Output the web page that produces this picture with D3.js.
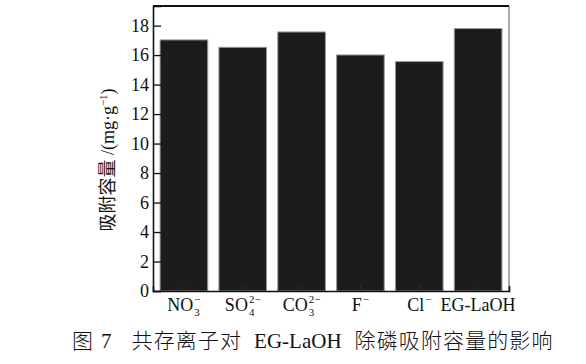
<!DOCTYPE html>
<html><head><meta charset="utf-8">
<script src="https://cdn.jsdelivr.net/npm/d3@7"></script>
<style>
body{margin:0;background:#fff;}
text{font-family:"Liberation Serif","Times New Roman",serif;fill:#111;}
.cjk{font-family:"Noto Sans CJK SC","Noto Sans CJK JP",sans-serif;}
</style></head>
<body><svg id="c" width="586" height="364"></svg>
<script>
const categories = ["NO3-","SO42-","CO32-","F-","Cl-","EG-LaOH"];
const labelBase = ["NO","SO","CO","F","Cl","EG-LaOH"];
const labelSub = ["3","4","3","","",""];
const labelSup = ["−","2−","2−","−","−",""];
const values = [17.03, 16.53, 17.57, 16.01, 15.56, 17.8];
const yTicks = [0,2,4,6,8,10,12,14,16,18];
const yLabelCn = "吸附容量";
const yLabelUnit = " /(mg·g";
const caption = ["图", "7", "共存离子对", "EG-LaOH", "除磷吸附容量的影响"];

const svg = d3.select("#c");
const L=153, R=509, T=6, B=291;
const x = d3.scaleBand().domain(categories).range([L,R]).paddingInner(0.19).paddingOuter(0.12);
const y = d3.scaleLinear().domain([0,19.33]).range([B,T]);

// bars
svg.selectAll("rect.bar").data(values).join("rect").attr("class","bar")
  .attr("x",(d,i)=>x(categories[i])).attr("width",x.bandwidth())
  .attr("y",d=>y(d)).attr("height",d=>B-y(d))
  .attr("fill","#1c1c1c").attr("stroke","#9a9a9a").attr("stroke-width",1);

// frame
svg.append("line").attr("x1",L).attr("x2",R).attr("y1",T).attr("y2",T).attr("stroke","#111").attr("stroke-width",2);
svg.append("line").attr("x1",R).attr("x2",R).attr("y1",T).attr("y2",B).attr("stroke","#555").attr("stroke-width",1);

// y axis
const ya = svg.append("g").attr("transform",`translate(${L},0)`)
  .call(d3.axisLeft(y).tickValues(yTicks).tickSize(-8).tickPadding(4).tickFormat(d3.format("d")));
ya.select(".domain").attr("stroke","#111").attr("stroke-width",1.6);
ya.selectAll(".tick line").attr("stroke","#111").attr("stroke-width",1.3);
ya.selectAll(".tick text").attr("font-size",18).attr("font-family","'Liberation Serif',serif").attr("fill","#111");

// x axis
const xa = svg.append("g").attr("transform",`translate(0,${B})`)
  .call(d3.axisBottom(x).tickSize(-5).tickFormat(""));
xa.select(".domain").attr("stroke","#111").attr("stroke-width",1.6);
xa.selectAll(".tick line").attr("stroke","#333");

// x labels with sub/superscripts
categories.forEach((c,i)=>{
  const g = svg.append("g");
  const base = g.append("text").attr("x",0).attr("y",311).attr("font-size",18).text(labelBase[i]);
  const w = base.node().getComputedTextLength();
  let w2 = 0;
  if(labelSub[i]){
    const s = g.append("text").attr("x",w+1).attr("y",316).attr("font-size",11).text(labelSub[i]);
    w2 = Math.max(w2, s.node().getComputedTextLength()+1);
  }
  if(labelSup[i]){
    const s = g.append("text").attr("x",w+1).attr("y",303).attr("font-size",11).text(labelSup[i]);
    w2 = Math.max(w2, s.node().getComputedTextLength()+1);
  }
  const total = w + w2;
  g.attr("transform",`translate(${x(c)+x.bandwidth()/2-total/2},0)`);
});

// y label
const yl = svg.append("text").attr("transform","translate(114,160) rotate(-90)")
  .attr("text-anchor","middle").attr("font-size",18).style("white-space","pre");
yl.append("tspan").attr("class","cjk").attr("font-size",18).text(yLabelCn);
yl.append("tspan").text(yLabelUnit);
yl.append("tspan").attr("font-size",11).attr("dy",-7).text("−1");
yl.append("tspan").attr("dy",7).text(")");

// caption: segments laid out in sequence with gaps
const capY = 348;
const gaps = [7, 20, 12, 13];
const isCjk = [true, false, true, false, true];
let cx = 72;
caption.forEach((s,i)=>{
  const t = svg.append("text").attr("x",cx).attr("y",capY).text(s);
  if(isCjk[i]) t.attr("class","cjk").attr("font-size",21).attr("letter-spacing",1.1).attr("font-weight",300);
  else t.attr("font-size",21);
  cx += t.node().getComputedTextLength() + (i<gaps.length?gaps[i]:0);
});
</script></body></html>
